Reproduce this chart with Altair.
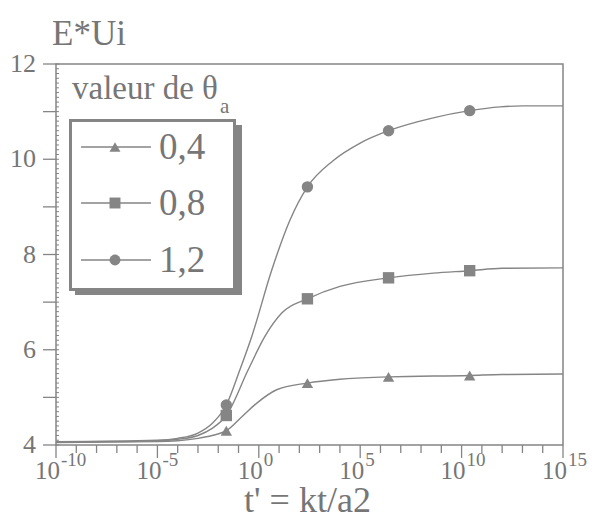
import altair as alt
import pandas as pd

# ---------------- data ----------------
series_labels = ["0,4", "0,8", "1,2"]
series_shapes = ["triangle-up", "square", "circle"]

# smooth curves (t, value)
curve_t_04 = [1e-10, 1e-5, 1e-4, 1e-3, 5e-3, 2.5e-2, 0.16, 0.8, 7.6, 250, 1e4, 2.5e6, 2.5e10, 1e12, 1e15]
curve_v_04 = [4.05, 4.07, 4.09, 4.14, 4.20, 4.30, 4.61, 4.88, 5.16, 5.30, 5.38, 5.43, 5.46, 5.48, 5.49]

curve_t_08 = [1e-10, 1e-5, 1e-4, 1e-3, 5e-3, 2.5e-2, 0.3, 2.0, 13.5, 250, 1e4, 2.5e6, 4e8, 2.5e10, 1e12, 1e15]
curve_v_08 = [4.06, 4.09, 4.12, 4.20, 4.35, 4.62, 5.58, 6.28, 6.77, 7.07, 7.33, 7.51, 7.61, 7.66, 7.71, 7.72]

curve_t_12 = [1e-10, 1e-5, 1e-4, 1e-3, 5e-3, 2.5e-2, 0.117, 0.45, 4.4, 35, 250, 4.6e3, 1e5, 2.5e6, 4e8, 2.5e10, 8e11, 1e13, 1e15]
curve_v_12 = [4.07, 4.10, 4.14, 4.25, 4.45, 4.84, 5.58, 6.28, 7.68, 8.73, 9.42, 9.97, 10.34, 10.60, 10.87, 11.02, 11.10, 11.12, 11.12]

# markers
marker_t = [2.5e-2, 250, 2.5e6, 2.5e10]
marker_v_04 = [4.30, 5.30, 5.43, 5.46]
marker_v_08 = [4.62, 7.07, 7.51, 7.66]
marker_v_12 = [4.84, 9.42, 10.60, 11.02]

# axis ticks and labels
x_label_t = [1e-10, 1e-5, 1.0, 1e5, 1e10, 1e15]
x_label_exp = ["-10", "-5", "0", "5", "10", "15"]
x_minor_t = [10.0 ** e for e in range(-10, 16) if e % 5 != 0]
y_ticks = [4, 5, 6, 7, 8, 9, 10, 11, 12]
y_labels = [4, 6, 8, 10, 12]
y_fine_ticks = [round(4 + 0.1 * i, 1) for i in range(81)]

# ---------------- tables ----------------
rows = []
for lab, ts, vs in [(series_labels[0], curve_t_04, curve_v_04),
                    (series_labels[1], curve_t_08, curve_v_08),
                    (series_labels[2], curve_t_12, curve_v_12)]:
    for t, v in zip(ts, vs):
        rows.append({"series": lab, "t": t, "v": v})
curves = pd.DataFrame(rows)

mrows = []
for lab, vs in [(series_labels[0], marker_v_04),
                (series_labels[1], marker_v_08),
                (series_labels[2], marker_v_12)]:
    for t, v in zip(marker_t, vs):
        mrows.append({"series": lab, "t": t, "v": v})
markers = pd.DataFrame(mrows)

xlabels = pd.DataFrame({"t": x_label_t, "exp": x_label_exp, "base": ["10"] * len(x_label_t)})
ylabels = pd.DataFrame({"v": y_labels})

# ---------------- style ----------------
W, H = 507, 381
GRAY = "#858585"
TXT = "#767676"
FONT = "Liberation Serif"

xscale = alt.Scale(type="log", domain=[1e-10, 1e15], nice=False)
yscale = alt.Scale(domain=[4, 12], nice=False, zero=False)
shape_scale = alt.Scale(domain=series_labels, range=series_shapes)

x_axis = alt.Axis(labels=False, ticks=False, title=None, grid=False,
                  domainColor=GRAY, domainWidth=1.5)
y_axis = alt.Axis(labels=False, ticks=False, title=None, grid=False,
                  domainColor=GRAY, domainWidth=1.5)

lines = alt.Chart(curves).mark_line(interpolate="monotone", color=GRAY, strokeWidth=1.4).encode(
    x=alt.X("t:Q", scale=xscale, axis=x_axis),
    y=alt.Y("v:Q", scale=yscale, axis=y_axis),
    detail="series:N",
)

points = alt.Chart(markers).mark_point(filled=True, color=GRAY, opacity=1, size=130).encode(
    x=alt.X("t:Q", scale=xscale, axis=None),
    y=alt.Y("v:Q", scale=yscale, axis=None),
    shape=alt.Shape("series:N", scale=shape_scale, legend=None),
)

# tick marks
xmajor = alt.Chart(pd.DataFrame({"t": x_label_t})).mark_rule(color=GRAY, strokeWidth=1.3).encode(
    x=alt.X("t:Q", scale=xscale, axis=None), y=alt.value(H), y2=alt.value(H + 13))
xminor = alt.Chart(pd.DataFrame({"t": x_minor_t})).mark_rule(color=GRAY, strokeWidth=1.3).encode(
    x=alt.X("t:Q", scale=xscale, axis=None), y=alt.value(H), y2=alt.value(H + 8))
ymain = alt.Chart(pd.DataFrame({"v": y_ticks})).mark_rule(color=GRAY, strokeWidth=1.3).encode(
    y=alt.Y("v:Q", scale=yscale, axis=None), x=alt.value(-13), x2=alt.value(0))
yfine = alt.Chart(pd.DataFrame({"v": y_fine_ticks})).mark_rule(color=GRAY, strokeWidth=1).encode(
    y=alt.Y("v:Q", scale=yscale, axis=None), x=alt.value(0), x2=alt.value(3))

ylab = alt.Chart(ylabels).mark_text(font=FONT, fontSize=26, color=TXT, align="right", baseline="middle", dx=-20).encode(
    y=alt.Y("v:Q", scale=yscale, axis=None), x=alt.value(0), text="v:Q")

xbase = alt.Chart(xlabels).mark_text(font=FONT, fontSize=25, color=TXT, align="right", baseline="alphabetic", dx=4).encode(
    x=alt.X("t:Q", scale=xscale, axis=None),
    y=alt.value(H + 34),
    text="base:N",
)
xexp = alt.Chart(xlabels).mark_text(font=FONT, fontSize=19, color=TXT, align="left", baseline="alphabetic", dx=5).encode(
    x=alt.X("t:Q", scale=xscale, axis=None),
    y=alt.value(H + 21),
    text="exp:N",
)

def single_text(txt, x, y, size, align="left", baseline="alphabetic"):
    return alt.Chart(pd.DataFrame({"txt": [txt]})).mark_text(
        font=FONT, fontSize=size, color=TXT, align=align, baseline=baseline
    ).encode(x=alt.value(x), y=alt.value(y), text="txt:N")

ytitle = single_text("E*Ui", -4, -19, 35)
xtitle = single_text("t' = kt/a2", W / 2 - 2, H + 67, 36, align="center")

one = pd.DataFrame({"k": [0]})
shadow = alt.Chart(one).mark_rect(fill=GRAY).encode(
    x=alt.value(19), x2=alt.value(186), y=alt.value(61), y2=alt.value(231))
box = alt.Chart(one).mark_rect(fill="white", stroke=GRAY, strokeWidth=3).encode(
    x=alt.value(14.5), x2=alt.value(178.5), y=alt.value(56.5), y2=alt.value(225.5))

leg_title = single_text("valeur de θ", 16, 35, 33)
leg_sub = single_text("a", 164, 49, 21)

legend_layers = [shadow, box, leg_title, leg_sub]
row_y = [83, 139, 196]
for i, lab in enumerate(series_labels):
    d = pd.DataFrame({"series": [lab]})
    legend_layers.append(
        alt.Chart(d).mark_rule(color=GRAY, strokeWidth=1.4).encode(
            x=alt.value(25), x2=alt.value(95), y=alt.value(row_y[i]))
    )
    legend_layers.append(
        alt.Chart(d).mark_point(filled=True, color=GRAY, opacity=1, size=120).encode(
            x=alt.value(59), y=alt.value(row_y[i]),
            shape=alt.Shape("series:N", scale=shape_scale, legend=None))
    )
    legend_layers.append(
        alt.Chart(d).mark_text(font=FONT, fontSize=37, color=TXT, align="left", baseline="middle", dy=1).encode(
            x=alt.value(103), y=alt.value(row_y[i]), text="series:N")
    )

chart = alt.layer(
    lines, points, xmajor, xminor, ymain, yfine, ylab, xbase, xexp, ytitle, xtitle, *legend_layers
).properties(
    width=W, height=H,
    padding={"left": 56, "top": 64, "right": 29, "bottom": 77},
    autosize=alt.AutoSizeParams(type="none"),
    view=alt.ViewBackground(stroke=GRAY, strokeWidth=1.5),
)

chart.save("out.html", embed_options={"renderer": "svg", "actions": False})
